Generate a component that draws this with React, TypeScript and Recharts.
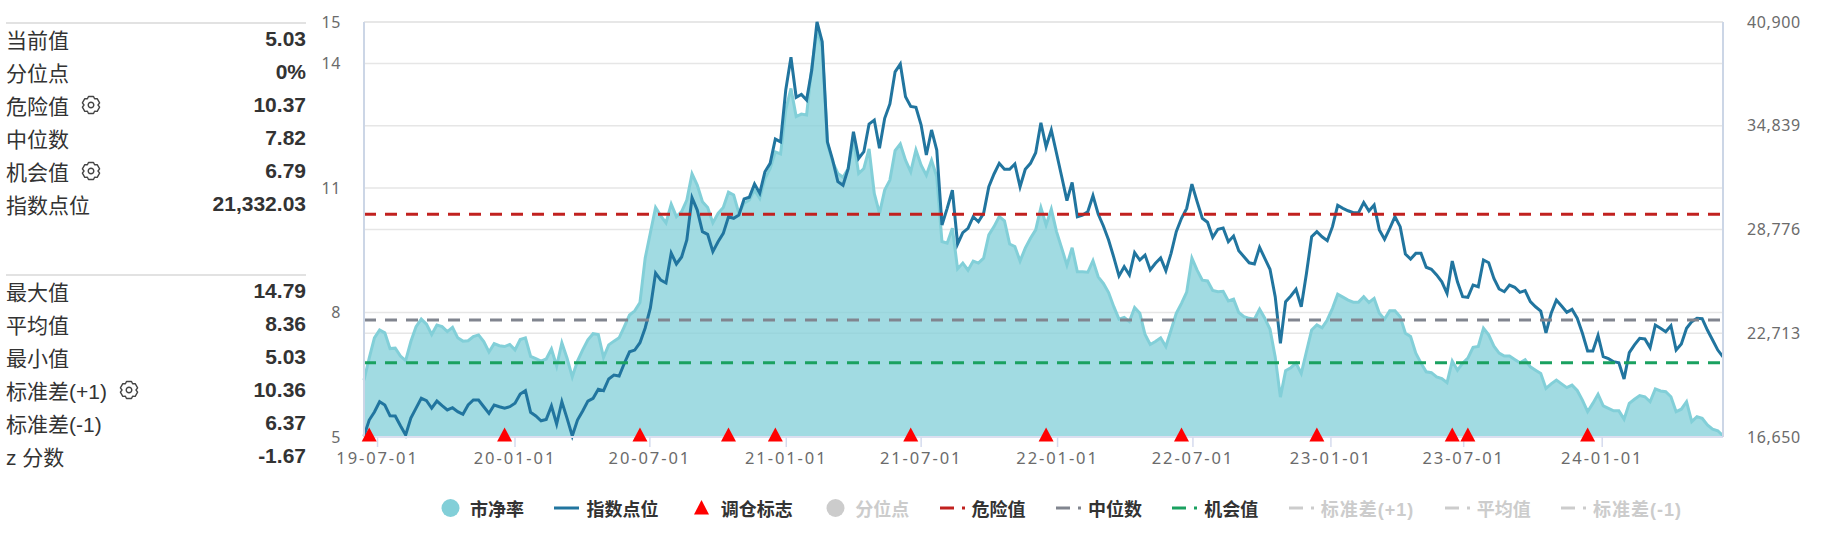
import { ComposedChart, Area, Line, Scatter, XAxis, YAxis, CartesianGrid, ReferenceLine, Legend } from 'recharts'

const pbValues = [
  6.37, 6.90, 7.39, 7.58, 7.51, 7.13, 7.14, 6.95, 6.84, 7.30, 7.66, 7.84, 7.72, 7.47, 7.70, 7.66, 7.54, 7.64, 7.39, 7.31,
  7.32, 7.42, 7.46, 7.30, 7.05, 7.25, 7.20, 7.18, 7.23, 7.10, 7.35, 7.39, 6.94, 6.89, 6.83, 6.88, 7.12, 6.71, 7.27, 6.90,
  6.45, 6.83, 7.10, 7.34, 7.49, 7.47, 6.92, 7.22, 7.31, 7.39, 7.66, 7.94, 8.04, 8.24, 9.31, 9.92, 10.53, 10.33, 10.16, 10.61,
  10.31, 10.43, 10.71, 11.34, 11.07, 10.67, 10.53, 10.16, 10.39, 10.53, 10.90, 10.83, 10.39, 10.63, 10.71, 10.95, 10.75, 11.23, 11.47, 11.87,
  11.82, 12.88, 13.40, 12.72, 12.78, 12.76, 13.92, 14.79, 14.40, 12.08, 11.63, 11.35, 11.26, 11.47, 12.16, 11.35, 11.47, 11.94, 10.87, 10.39,
  10.95, 11.19, 11.90, 12.06, 11.67, 11.39, 11.92, 11.55, 11.31, 11.67, 11.27, 9.71, 9.67, 10.03, 9.05, 9.19, 9.02, 9.24, 9.19, 9.31,
  9.87, 10.07, 10.31, 10.21, 9.65, 9.59, 9.24, 9.55, 9.79, 9.99, 10.53, 10.11, 10.49, 9.95, 9.55, 9.14, 9.56, 8.98, 8.98, 8.97,
  9.25, 8.86, 8.70, 8.48, 8.14, 7.84, 7.88, 7.78, 8.12, 7.98, 7.47, 7.23, 7.30, 7.39, 7.18, 7.58, 7.98, 8.22, 8.49, 9.31,
  9.02, 8.78, 8.76, 8.53, 8.50, 8.51, 8.28, 8.32, 8.00, 7.90, 7.86, 7.84, 8.08, 7.86, 7.60, 6.93, 5.96, 6.60, 6.67, 6.78,
  6.53, 7.06, 7.58, 7.70, 7.63, 7.82, 8.10, 8.44, 8.37, 8.30, 8.25, 8.25, 8.38, 8.24, 8.34, 7.98, 7.84, 8.04, 8.04, 7.90,
  7.50, 7.42, 7.02, 6.78, 6.57, 6.55, 6.45, 6.41, 6.31, 6.83, 6.61, 6.78, 6.90, 7.16, 7.18, 7.62, 7.46, 7.19, 7.02, 6.95,
  6.95, 6.87, 6.79, 6.86, 6.69, 6.61, 6.53, 6.17, 6.28, 6.37, 6.28, 6.19, 6.25, 6.12, 5.89, 5.61, 5.81, 6.03, 5.75, 5.69,
  5.63, 5.63, 5.43, 5.81, 5.91, 6.00, 5.97, 5.85, 6.16, 6.11, 6.09, 5.97, 5.61, 5.67, 5.85, 5.37, 5.49, 5.45, 5.29, 5.19,
  5.15, 5.03,
]

const indexValues = [
  16710, 17640, 18110, 18710, 18520, 17890, 17880, 17310, 16770, 17760, 18340, 18910, 18770, 18330, 18750, 18480, 18230, 18360, 18130, 17980,
  18520, 18810, 18810, 18420, 18030, 18520, 18420, 18330, 18420, 18620, 19160, 19360, 18090, 17880, 17600, 17680, 18460, 17410, 18710, 17740,
  16710, 17640, 18170, 18750, 18910, 19440, 19360, 20040, 20270, 20210, 20960, 21630, 21730, 22160, 23020, 24190, 26230, 25820, 25650, 27400,
  26760, 27170, 28160, 30630, 29910, 28650, 28490, 27480, 28060, 28550, 29520, 29430, 29620, 30560, 30660, 31430, 30890, 32150, 32640, 34060,
  33900, 36930, 38840, 36500, 36670, 36340, 38090, 40900, 39750, 33900, 32840, 31570, 31360, 32350, 34490, 32930, 33320, 34940, 35170, 33520,
  35270, 36110, 37990, 38440, 36530, 35970, 35910, 34880, 33130, 34590, 33420, 29040, 30010, 31080, 27930, 28590, 28840, 29520, 29230, 29720,
  31270, 32020, 32640, 32290, 32290, 32600, 31270, 32290, 32640, 33260, 35010, 33610, 34590, 33230, 31860, 30460, 31530, 29520, 29620, 29810,
  30750, 29680, 28980, 28160, 27150, 26060, 26600, 26120, 27420, 26990, 27280, 26410, 26800, 27110, 26370, 27380, 28650, 29430, 30010, 31430,
  30400, 29430, 29200, 28320, 28790, 28860, 28060, 28390, 27540, 27180, 26830, 26760, 27730, 27090, 26450, 24850, 22120, 24560, 24890, 25280,
  24260, 26210, 28350, 28650, 28350, 28120, 28940, 30190, 30010, 29870, 29760, 29760, 30350, 29860, 30210, 28750, 28200, 28840, 29520, 28940,
  27340, 27050, 27380, 27380, 26570, 26450, 26120, 25720, 25050, 26930, 25720, 24850, 24810, 25530, 25430, 26990, 26830, 25920, 25300, 25140,
  25530, 25400, 25100, 25200, 24560, 24260, 24010, 22740, 23880, 24650, 24300, 23940, 24110, 23590, 22710, 21680, 21680, 22590, 21340, 21230,
  21050, 20990, 20040, 21580, 22030, 22420, 22380, 21870, 23190, 23000, 22800, 23150, 21730, 22080, 23000, 23390, 23590, 23560, 22900, 22320,
  21730, 21332,
]

const tickWeeks = [2.6, 29, 54.9, 81.1, 107, 133.2, 159.2, 185.7, 211.2, 237.8]
const tickLabels = ['19-07-01', '20-01-01', '20-07-01', '21-01-01', '21-07-01', '22-01-01', '22-07-01', '23-01-01', '23-07-01', '24-01-01']
const rebalanceWeeks = [1, 27, 53, 70, 79, 105, 131, 157, 183, 209, 212, 235]

const pbTicks = [5, 8, 11, 14, 15]
const indexTicks = [16650, 22713, 28776, 34839, 40900]

const dangerValue = 10.37
const medianValue = 7.82
const chanceValue = 6.79

const currentRows = [
  { label: '当前值', value: '5.03' },
  { label: '分位点', value: '0%' },
  { label: '危险值', value: '10.37', gear: true },
  { label: '中位数', value: '7.82' },
  { label: '机会值', value: '6.79', gear: true },
  { label: '指数点位', value: '21,332.03' },
]
const statRows = [
  { label: '最大值', value: '14.79' },
  { label: '平均值', value: '8.36' },
  { label: '最小值', value: '5.03' },
  { label: '标准差(+1)', value: '10.36', gear: true },
  { label: '标准差(-1)', value: '6.37' },
  { label: 'z 分数', value: '-1.67' },
]

const legendItems = [
  { name: '市净率', icon: 'circle', color: '#82cfd8' },
  { name: '指数点位', icon: 'line', color: '#21759f' },
  { name: '调仓标志', icon: 'triangle', color: '#ff0000' },
  { name: '分位点', icon: 'circle', color: '#cccccc', off: true },
  { name: '危险值', icon: 'dash', color: '#c1211f' },
  { name: '中位数', icon: 'dash', color: '#81858f' },
  { name: '机会值', icon: 'dash', color: '#1aa160' },
  { name: '标准差(+1)', icon: 'dash', color: '#cccccc', off: true },
  { name: '平均值', icon: 'dash', color: '#cccccc', off: true },
  { name: '标准差(-1)', icon: 'dash', color: '#cccccc', off: true },
]

const chartData = pbValues.map((pb, i) => ({ week: i, pb, index: indexValues[i] }))
const flagData = rebalanceWeeks.map((week) => ({ week, pb: 5 }))

const sans = '"Liberation Sans", "Noto Sans CJK SC", sans-serif'
const axisFont = { fontFamily: '"Noto Sans", sans-serif', fontSize: 16, fill: '#6b6b6b', letterSpacing: 0.6 }
const dateFont = { ...axisFont, fontSize: 16.5, letterSpacing: 1.9 }

function Gear() {
  return (
    <svg width="20" height="20" viewBox="-10 -10 20 20" style={{ marginLeft: 12 }}>
      <path
        d="M-2.5 -8.5 L2.5 -8.5 L3.6 -6.2 L6.2 -6.4 L8.6 -2.2 L7 0 L8.6 2.2 L6.2 6.4 L3.6 6.2 L2.5 8.5 L-2.5 8.5 L-3.6 6.2 L-6.2 6.4 L-8.6 2.2 L-7 0 L-8.6 -2.2 L-6.2 -6.4 L-3.6 -6.2 Z"
        fill="none"
        stroke="#444"
        strokeWidth="1.4"
        strokeLinejoin="round"
      />
      <circle r="2.8" fill="none" stroke="#444" strokeWidth="1.4" />
    </svg>
  )
}

function StatRows({ rows, top }: { rows: typeof currentRows; top: number }) {
  return (
    <div style={{ position: 'absolute', left: 6, top, width: 300, borderTop: '2px solid #e2e2e2', fontFamily: sans }}>
      {rows.map((row) => (
        <div key={row.label} style={{ position: 'relative', top: -2, display: 'flex', alignItems: 'center', height: 33, fontSize: 21, color: '#333' }}>
          <span>{row.label}</span>
          {row.gear ? <Gear /> : null}
          <span style={{ marginLeft: 'auto', fontWeight: 700 }}>{row.value}</span>
        </div>
      ))}
    </div>
  )
}

function LegendIcon({ icon, color }: { icon: string; color: string }) {
  return (
    <svg width="25" height="18" style={{ marginRight: 7 }}>
      {icon === 'circle' ? <circle cx="12.5" cy="9" r="9" fill={color} /> : null}
      {icon === 'line' ? <line x1="0" x2="25" y1="9" y2="9" stroke={color} strokeWidth="3" /> : null}
      {icon === 'triangle' ? <path d="M12.5 1 L20 15.5 L5 15.5 Z" fill={color} /> : null}
      {icon === 'dash' ? (
        <>
          <line x1="0" x2="14" y1="9" y2="9" stroke={color} strokeWidth="3" />
          <line x1="22" x2="25" y1="9" y2="9" stroke={color} strokeWidth="3" />
        </>
      ) : null}
    </svg>
  )
}

function ChartLegend() {
  return (
    <div style={{ display: 'flex', alignItems: 'center', gap: 30.4, fontFamily: sans, fontSize: 18, fontWeight: 700 }}>
      {legendItems.map((item) => (
        <div key={item.name} style={{ display: 'flex', alignItems: 'center', color: item.off ? '#cccccc' : '#333' }}>
          <LegendIcon icon={item.icon} color={item.color} />
          <span style={{ letterSpacing: item.name.includes('(') ? 1 : 0 }}>{item.name}</span>
        </div>
      ))}
    </div>
  )
}

function FlagMark({ cx, cy }: { cx?: number; cy?: number }) {
  return <path d={`M${cx} ${(cy ?? 0) - 9.5} L${(cx ?? 0) + 7.5} ${(cy ?? 0) + 4.5} L${(cx ?? 0) - 7.5} ${(cy ?? 0) + 4.5} Z`} fill="#ff0000" />
}

export default function App() {
  return (
    <div style={{ position: 'absolute', left: 0, top: 0, width: 1831, height: 541, background: '#fff' }}>
      <StatRows rows={currentRows} top={22} />
      <StatRows rows={statRows} top={274} />
      <ComposedChart width={1831} height={541} data={chartData} margin={{ top: 22, right: 48, bottom: 44, left: 304 }} style={{ position: 'absolute', left: 0, top: 0 }}>
        <CartesianGrid yAxisId="pb" vertical={false} stroke="#e6e6e6" strokeWidth={1.5} />
        <CartesianGrid yAxisId="idx" vertical={false} stroke="#e6e6e6" strokeWidth={1.5} />
        <XAxis
          dataKey="week"
          type="number"
          domain={[0, 261]}
          ticks={tickWeeks}
          tickFormatter={(w: number) => tickLabels[tickWeeks.indexOf(w)]}
          interval={0}
          height={60}
          axisLine={{ stroke: '#dcdff0', strokeWidth: 2 }}
          tickLine={{ stroke: '#d5dbee', strokeWidth: 1.5 }}
          tickSize={10}
          tickMargin={5}
          tick={dateFont}
        />
        <YAxis
          yAxisId="pb"
          dataKey="pb"
          domain={[5, 15]}
          ticks={pbTicks}
          interval={0}
          width={60}
          axisLine={{ stroke: '#ccd6e6', strokeWidth: 2 }}
          tickLine={false}
          tickSize={0}
          tickMargin={23}
          tick={axisFont}
        />
        <YAxis
          yAxisId="idx"
          orientation="right"
          domain={[16650, 40900]}
          ticks={indexTicks}
          interval={0}
          width={60}
          axisLine={{ stroke: '#ccd6e6', strokeWidth: 2 }}
          tickLine={false}
          tickSize={0}
          tickMargin={24}
          tick={axisFont}
          tickFormatter={(v: number) => v.toLocaleString('en-US')}
        />
        <Legend
          layout="horizontal"
          verticalAlign="middle"
          align="center"
          wrapperStyle={{ position: 'absolute', left: 438, top: 495, width: 1350, height: 24 }}
          content={() => <ChartLegend />}
        />
        <Area yAxisId="pb" dataKey="pb" type="linear" stroke="#82cfd8" strokeWidth={3} fill="#82cfd8" fillOpacity={0.75} dot={false} activeDot={false} isAnimationActive={false} />
        <Line yAxisId="idx" dataKey="index" type="linear" stroke="#21759f" strokeWidth={3} dot={false} activeDot={false} isAnimationActive={false} />
        <ReferenceLine yAxisId="pb" y={dangerValue} stroke="#c1211f" strokeWidth={3} strokeDasharray="12 9" />
        <ReferenceLine yAxisId="pb" y={medianValue} stroke="#81858f" strokeWidth={3} strokeDasharray="12 9" />
        <ReferenceLine yAxisId="pb" y={chanceValue} stroke="#1aa160" strokeWidth={3} strokeDasharray="12 9" />
        <Scatter yAxisId="pb" data={flagData} dataKey="pb" shape={<FlagMark />} isAnimationActive={false} />
      </ComposedChart>
    </div>
  )
}
